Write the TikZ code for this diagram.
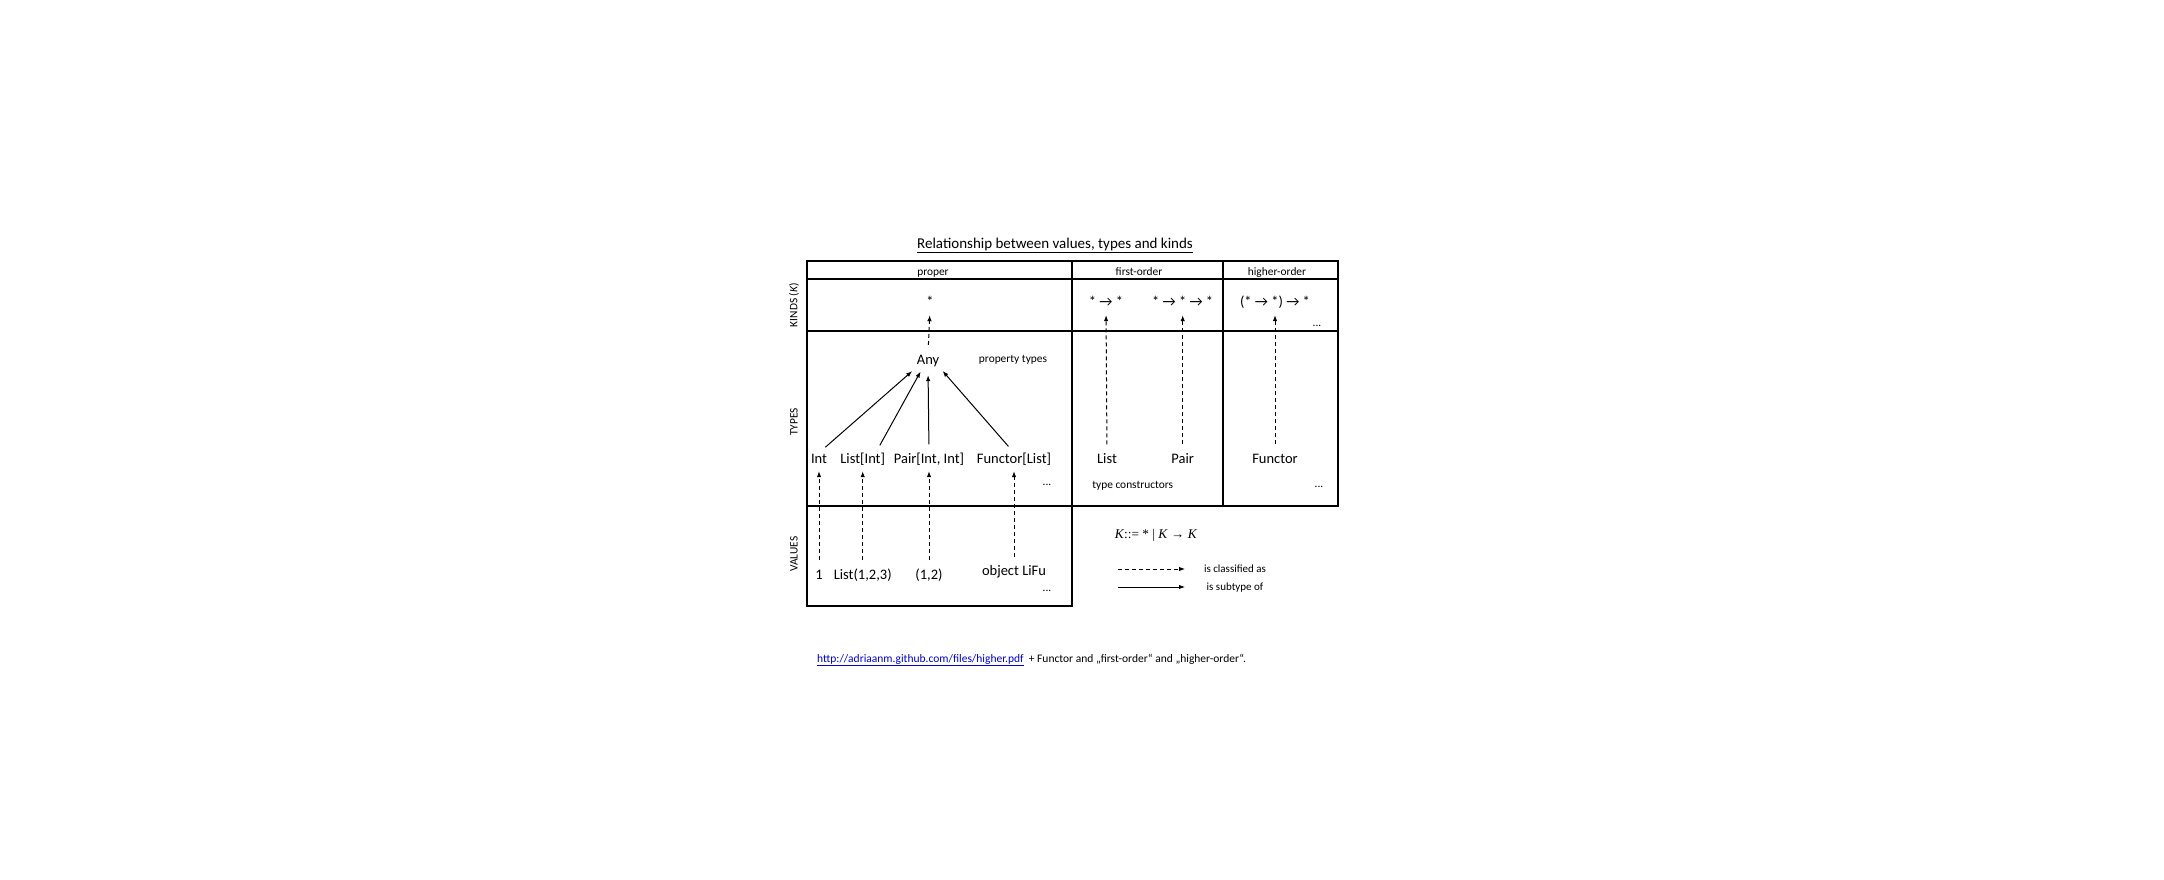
\documentclass[tikz,border=0pt]{standalone}
\usepackage{fontspec}
\setmainfont{Carlito}
\newfontfamily\tnr{Liberation Serif}
\usetikzlibrary{arrows.meta,calc}
\begin{document}
\begin{tikzpicture}[x=1pt,y=-1pt,
  lbl/.style={anchor=base,inner sep=0pt,text height=10pt,text depth=3pt,font=\fontsize{14.5}{17}\selectfont},
  kind/.style={anchor=base,inner sep=0pt,text height=10pt,text depth=3pt,font=\fontsize{14.5}{17}\selectfont},
  small/.style={anchor=base,inner sep=0pt,font=\fontsize{11.4}{13}\selectfont},
  rowlbl/.style={inner sep=0pt,rotate=90,font=\fontsize{11.4}{13}\selectfont},
  border/.style={line width=2.2pt,line join=miter},
  classified/.style={dash pattern=on 4pt off 3pt,line width=1pt,-{Latex[length=6pt,width=4.5pt]},shorten <=8.5pt,shorten >=5pt},
  subtype/.style={line width=1pt,-{Latex[length=6pt,width=4.5pt]},shorten <=8.5pt,shorten >=5pt},
]
\useasboundingbox (0,0) rectangle (2164,880);

% title
\node[anchor=base,inner sep=0pt,font=\fontsize{15}{17}\selectfont] (title) at (1055,248) {\underline{Relationship between values, types and kinds}};

% table borders
\draw[border] (806.7,260.7) rectangle (1338.3,505.7);
\draw[border] (806.7,279.3) -- (1338.3,279.3);
\draw[border] (806.7,331) -- (1338.3,331);
\draw[border] (1071.7,260.7) -- (1071.7,606) -- (806.7,606) -- (806.7,505.7);
\draw[border] (1222.7,260.7) -- (1222.7,505.7);

% headers
\node[small] (hproper) at (933,275) {proper};
\node[small] (hfirst) at (1139,275) {first-order};
\node[small] (hhigher) at (1277,275) {higher-order};

% row labels
\node[rowlbl] (rkinds) at (794,305) {KINDS (\textit{K})};
\node[rowlbl] (rtypes) at (794,422) {TYPES};
\node[rowlbl] (rvalues) at (794,554) {VALUES};

% kinds
\node[kind] (kstar) at (930,306) {*};
\node[kind] (k1) at (1106,306) {* → *};
\node[kind] (k2) at (1182.7,306) {* → * → *};
\node[kind] (k3) at (1275,306) {(* → *) → *};
\node[small] (kdots) at (1317,326) {...};

% types
\node[lbl] (any) at (928,364) {Any};
\node[small] (prop) at (1013,362) {property types};
\node[lbl] (tint) at (819,463) {Int};
\node[lbl] (tlist) at (862.7,463) {List[Int]};
\node[lbl] (tpair) at (929,463) {Pair[Int, Int]};
\node[lbl] (tfun) at (1014,463) {Functor[List]};
\node[small] (tdots) at (1047,485) {...};
\node[lbl] (clist) at (1107,463) {List};
\node[lbl] (cpair) at (1182.7,463) {Pair};
\node[lbl] (cfun) at (1275,463) {Functor};
\node[small] (tc) at (1132.7,488) {type constructors};
\node[small] (hdots) at (1319,487) {...};

% values
\node[lbl] (v1) at (819,579) {1};
\node[lbl] (vlist) at (862.7,579) {List(1,2,3)};
\node[lbl] (vpair) at (929,579) {(1,2)};
\node[lbl] (vobj) at (1014,575) {object LiFu};
\node[small] (vdots) at (1047,591) {...};

% subtype arrows
\draw[subtype,shorten >=6pt] (tint.north) -- (any.south west);
\draw[subtype] ([xshift=13pt]tlist.north) -- ([xshift=-5pt]any.south);
\draw[subtype,shorten >=8pt] (tpair.north) -- (any.south);
\draw[subtype] (tfun.north) -- (any.south east);

% classified arrows
\draw[classified,shorten <=9pt,shorten >=6pt] (any.north) -- (kstar.south);
\draw[classified,shorten >=6pt] (clist.north) -- (k1.south);
\draw[classified,shorten >=6pt] (cpair.north) -- (k2.south);
\draw[classified,shorten >=6pt] (cfun.north) -- (k3.south);
\draw[classified,shorten <=9pt] (v1.north) -- (tint.south);
\draw[classified,shorten <=9pt] (vlist.north) -- (tlist.south);
\draw[classified,shorten <=9pt] (vpair.north) -- (tpair.south);
\draw[classified,shorten <=8pt] (vobj.north) -- (tfun.south);

% grammar and legend
\node[anchor=base,inner sep=0pt,font=\tnr\fontsize{13.3}{15}\selectfont] (gram) at (1156,538) {\textit{K}::= * | \textit{K} → \textit{K}};
\coordinate (l1a) at (1118,569);
\coordinate (l1b) at (1185,569);
\coordinate (l2a) at (1118,587);
\coordinate (l2b) at (1185,587);
\draw[dash pattern=on 4pt off 3pt,line width=1pt,-{Latex[length=6pt,width=4.5pt]}] (l1a) -- (l1b);
\draw[line width=1pt,-{Latex[length=6pt,width=4.5pt]}] (l2a) -- (l2b);
\node[small,font=\fontsize{11}{13}\selectfont] (lclass) at (1235,572) {is classified as};
\node[small,font=\fontsize{11}{13}\selectfont] (lsub) at (1235,590.5) {is subtype of};

% footnote
\node[anchor=base west,inner sep=0pt,font=\fontsize{11.5}{13}\selectfont] (foot) at (817,662) {\textcolor[RGB]{0,0,204}{\underline{http://adriaanm.github.com/files/higher.pdf}}\ \ + Functor and „first-order“ and „higher-order“.};
\end{tikzpicture}
\end{document}
